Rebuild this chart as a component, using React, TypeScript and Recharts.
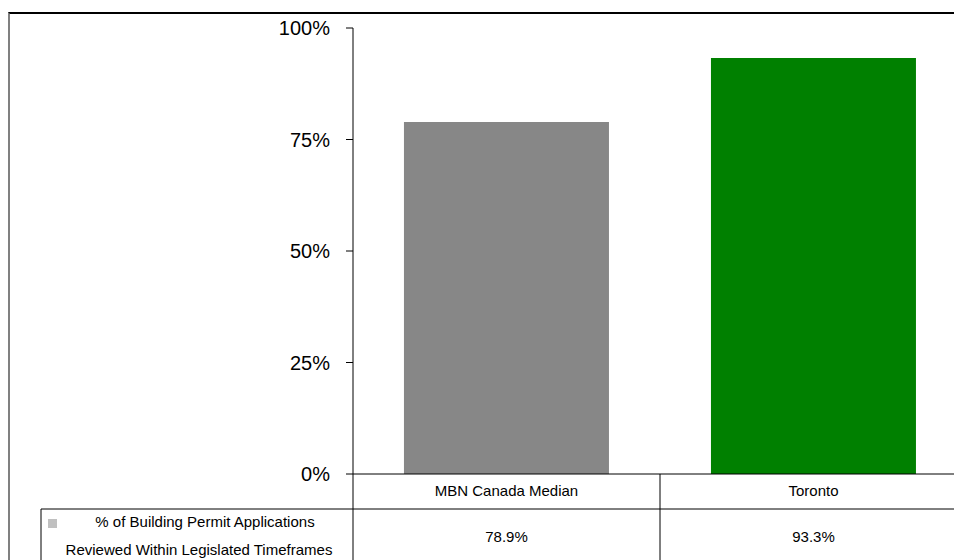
import React from "react";
import { BarChart, Bar, XAxis, YAxis, Cell } from "recharts";

const categories = ["MBN Canada Median", "Toronto"];
const values = [78.9, 93.3];
const valueLabels = ["78.9%", "93.3%"];
const barColors = ["#878787", "#008000"];
const yTicks = [0, 25, 50, 75, 100];
const seriesName = ["% of Building Permit Applications", "Reviewed Within Legislated Timeframes"];

const data = categories.map((name, i) => ({ name, value: values[i] }));

const FONT = "'Liberation Sans', Arial, sans-serif";
const BAND = 307;
const TABLE_LEFT = 41;
const BOTTOM = 560;

const TableTick = (props: any) => {
  const { x, y, index } = props;
  const half = BAND / 2;
  const row2 = y + 35;
  return (
    <g>
      <text x={x} y={y + 18} textAnchor="middle" dominantBaseline="middle" fontSize={15} fill="#000" fontFamily={FONT}>
        {categories[index]}
      </text>
      <text x={x} y={y + 64} textAnchor="middle" dominantBaseline="middle" fontSize={15} fill="#000" fontFamily={FONT}>
        {valueLabels[index]}
      </text>
      <line x1={x - half} x2={x + half} y1={row2} y2={row2} stroke="#000" strokeWidth={1} />
      <line x1={x + half} x2={x + half} y1={y} y2={BOTTOM} stroke="#000" strokeWidth={1} />
      {index === 0 && (
        <g>
          <line x1={x - half} x2={x - half} y1={y} y2={BOTTOM} stroke="#000" strokeWidth={1} />
          <line x1={TABLE_LEFT} x2={x - half} y1={row2} y2={row2} stroke="#000" strokeWidth={1} />
          <line x1={TABLE_LEFT} x2={TABLE_LEFT} y1={row2} y2={BOTTOM} stroke="#000" strokeWidth={1} />
          <rect x={TABLE_LEFT + 7} y={row2 + 10} width={9} height={9} fill="#c0c0c0" />
          <text x={205} y={row2 + 14} textAnchor="middle" dominantBaseline="middle" fontSize={15} fill="#000" fontFamily={FONT}>
            {seriesName[0]}
          </text>
          <text x={199} y={row2 + 42} textAnchor="middle" dominantBaseline="middle" fontSize={15} fill="#000" fontFamily={FONT}>
            {seriesName[1]}
          </text>
        </g>
      )}
    </g>
  );
};

export default function App() {
  return (
    <div
      style={{
        position: "fixed",
        left: 0,
        top: 0,
        width: 954,
        height: 560,
        overflow: "hidden",
        background: "#fff",
        fontFamily: FONT,
      }}
    >
      <div
        style={{
          position: "absolute",
          left: 8,
          top: 12,
          width: 1000,
          height: 600,
          borderTop: "2px solid #000",
          borderLeft: "2px solid #808080",
          boxSizing: "border-box",
        }}
      />
      <div style={{ position: "absolute", left: 0, top: 0 }}>
        <BarChart
          width={980}
          height={560}
          data={data}
          margin={{ top: 28, right: 13, bottom: 0, left: 0 }}
          barCategoryGap="16.6%"
        >
          <YAxis
            width={353}
            domain={[0, 100]}
            ticks={yTicks}
            tickFormatter={(v: number) => `${v}%`}
            axisLine={{ stroke: "#000" }}
            tickLine={{ stroke: "#000" }}
            tickSize={7}
            tickMargin={16}
            tick={{ fontSize: 20, fill: "#000", fontFamily: FONT }}
            interval={0}
          />
          <XAxis
            dataKey="name"
            height={86}
            axisLine={{ stroke: "#000" }}
            tickLine={false}
            tickSize={0}
            tickMargin={0}
            interval={0}
            tick={<TableTick />}
          />
          <Bar dataKey="value" isAnimationActive={false}>
            {data.map((d, i) => (
              <Cell key={d.name} fill={barColors[i]} />
            ))}
          </Bar>
        </BarChart>
      </div>
    </div>
  );
}
